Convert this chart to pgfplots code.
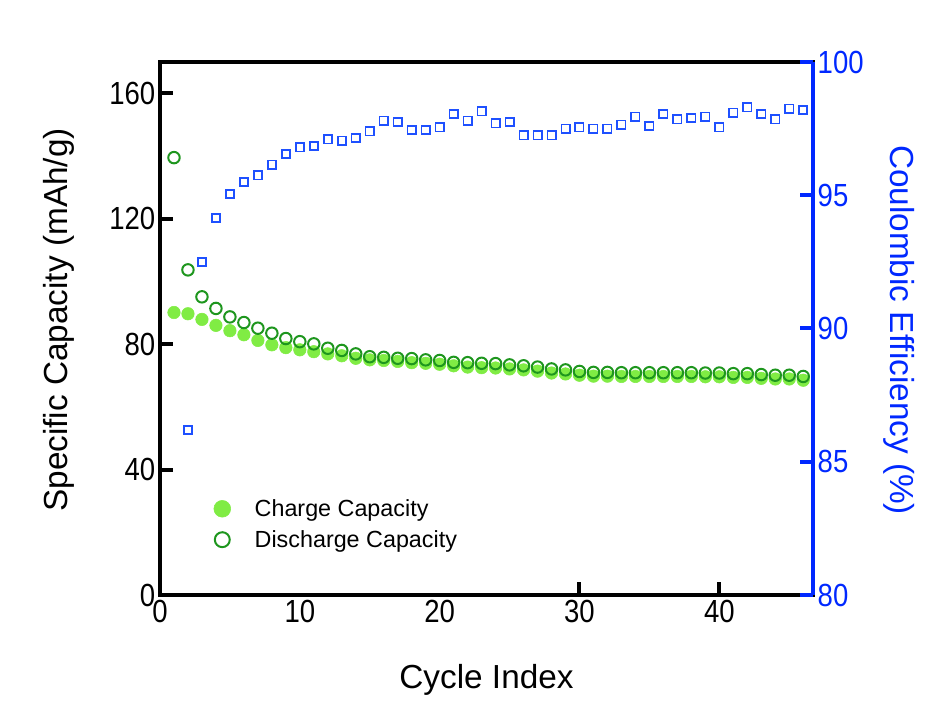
\documentclass[border=0pt]{standalone}
\usepackage{pgfplots}
\pgfplotsset{compat=1.18}
\usepackage{fontspec}
\setmainfont{Liberation Sans}
\newfontfamily\tickfont[FakeStretch=0.86]{Liberation Sans}

\definecolor{chg}{RGB}{128,236,68}
\definecolor{dchg}{RGB}{30,150,30}
\definecolor{ceblue}{RGB}{30,80,255}
\definecolor{axblue}{RGB}{0,40,255}

% capacity (mAh/g) per cycle
\pgfplotstableread{
cyc charge discharge
1  90.1 139.5
2  89.7 103.7
3  87.9 95.1
4  86.0 91.4
5  84.3 88.7
6  83.0 86.9
7  81.2 85.1
8  79.8 83.5
9  78.9 81.8
10 78.2 80.8
11 77.6 80.1
12 76.9 78.7
13 76.3 78.0
14 75.5 76.9
15 75.0 76.0
16 74.8 75.8
17 74.5 75.5
18 74.1 75.4
19 73.9 75.0
20 73.6 74.8
21 73.1 74.2
22 72.7 74.1
23 72.5 73.9
24 72.4 73.8
25 72.1 73.4
26 71.8 73.1
27 71.4 72.7
28 70.8 72.1
29 70.5 71.8
30 70.1 71.3
31 69.8 71.0
32 69.8 71.0
33 69.7 70.9
34 69.7 70.9
35 69.7 70.9
36 69.7 70.9
37 69.7 70.9
38 69.7 70.9
39 69.6 70.8
40 69.6 70.8
41 69.4 70.6
42 69.4 70.6
43 69.1 70.3
44 68.9 70.1
45 68.9 70.1
46 68.5 69.7
}\captable

% coulombic efficiency (%) per cycle
\pgfplotstableread{
cyc ce
2  86.2
3  92.5
4  94.15
5  95.05
6  95.5
7  95.75
8  96.15
9  96.55
10 96.8
11 96.85
12 97.1
13 97.05
14 97.15
15 97.4
16 97.8
17 97.75
18 97.45
19 97.45
20 97.55
21 98.05
22 97.8
23 98.15
24 97.7
25 97.75
26 97.25
27 97.25
28 97.25
29 97.5
30 97.55
31 97.5
32 97.5
33 97.65
34 97.95
35 97.6
36 98.05
37 97.85
38 97.9
39 97.95
40 97.55
41 98.1
42 98.3
43 98.05
44 97.85
45 98.25
46 98.2
}\cetable

\pgfplotsset{
  base/.style={
    width=489.75pt, height=399.75pt, scale only axis,
    xmin=0, xmax=46.7,
    tick align=inside, major tick length=10pt,
    axis line style={line width=3.6pt},
    every tick/.style={line width=3pt},
    ticklabel style={font=\tickfont\fontsize{24}{24}\selectfont},
    /pgf/number format/assume math mode=true,
    label style={font=\fontsize{25}{30}\selectfont},
  }
}

\begin{document}
\begin{tikzpicture}
\begin{axis}[base, name=ax,
  ymin=0, ymax=170, ytick={0,40,80,120,160},
  % only 30 and 40 carry a visible tick mark
  xtick={30,40},
  extra x ticks={0,10,20},
  extra x tick style={major tick length=0pt},
  ytick pos=left, xtick pos=left,
  every x tick/.append style={draw=black, line width=3pt},
  xlabel={Cycle Index},
  xlabel style={at={(axis description cs:0.5,-0.1745)}, anchor=base},
  ylabel={Specific Capacity (mAh/g)},
  ylabel style={at={(axis description cs:-0.1409,0.516)}, anchor=base},
  legend style={at={(axis description cs:0.076,0.19)}, anchor=north west,
    draw=none, fill=none, font=\fontsize{17.5}{21}\selectfont,
    row sep=5pt},
  legend cell align=left,
]
\addplot[only marks, mark=*, mark size=4.7pt, mark options={fill=chg, draw=chg},
  legend image post style={mark size=6.3pt}]
  table[x=cyc, y=charge] {\captable};
\addlegendentry{\hspace{16pt}Charge Capacity}
\addplot[only marks, mark=o, mark size=4.3pt, mark options={draw=dchg, line width=1.5pt},
  legend image post style={mark size=5.6pt}]
  table[x=cyc, y=discharge] {\captable};
\addlegendentry{\hspace{16pt}Discharge Capacity}
\end{axis}

\begin{axis}[base,
  ymin=80, ymax=100, ytick={80,85,90,95,100},
  axis x line=none, axis y line*=right,
  y axis line style={axblue, line width=3.6pt},
  every tick/.style={line width=3pt, axblue},
  yticklabel style={text=axblue},
  ylabel={Coulombic Efficiency (\%)},
  ylabel style={at={(axis description cs:1.118,0.497)}, rotate=180, anchor=base, text=axblue},
]
\addplot[only marks, mark=square, mark size=3.1pt, mark options={draw=ceblue, line width=1.3pt}]
  table[x=cyc, y=ce] {\cetable};
\end{axis}

\path ([shift={(-120pt,-79.5pt)}]ax.south west) rectangle ([shift={(90.75pt,46.5pt)}]ax.north east);
\end{tikzpicture}
\end{document}
